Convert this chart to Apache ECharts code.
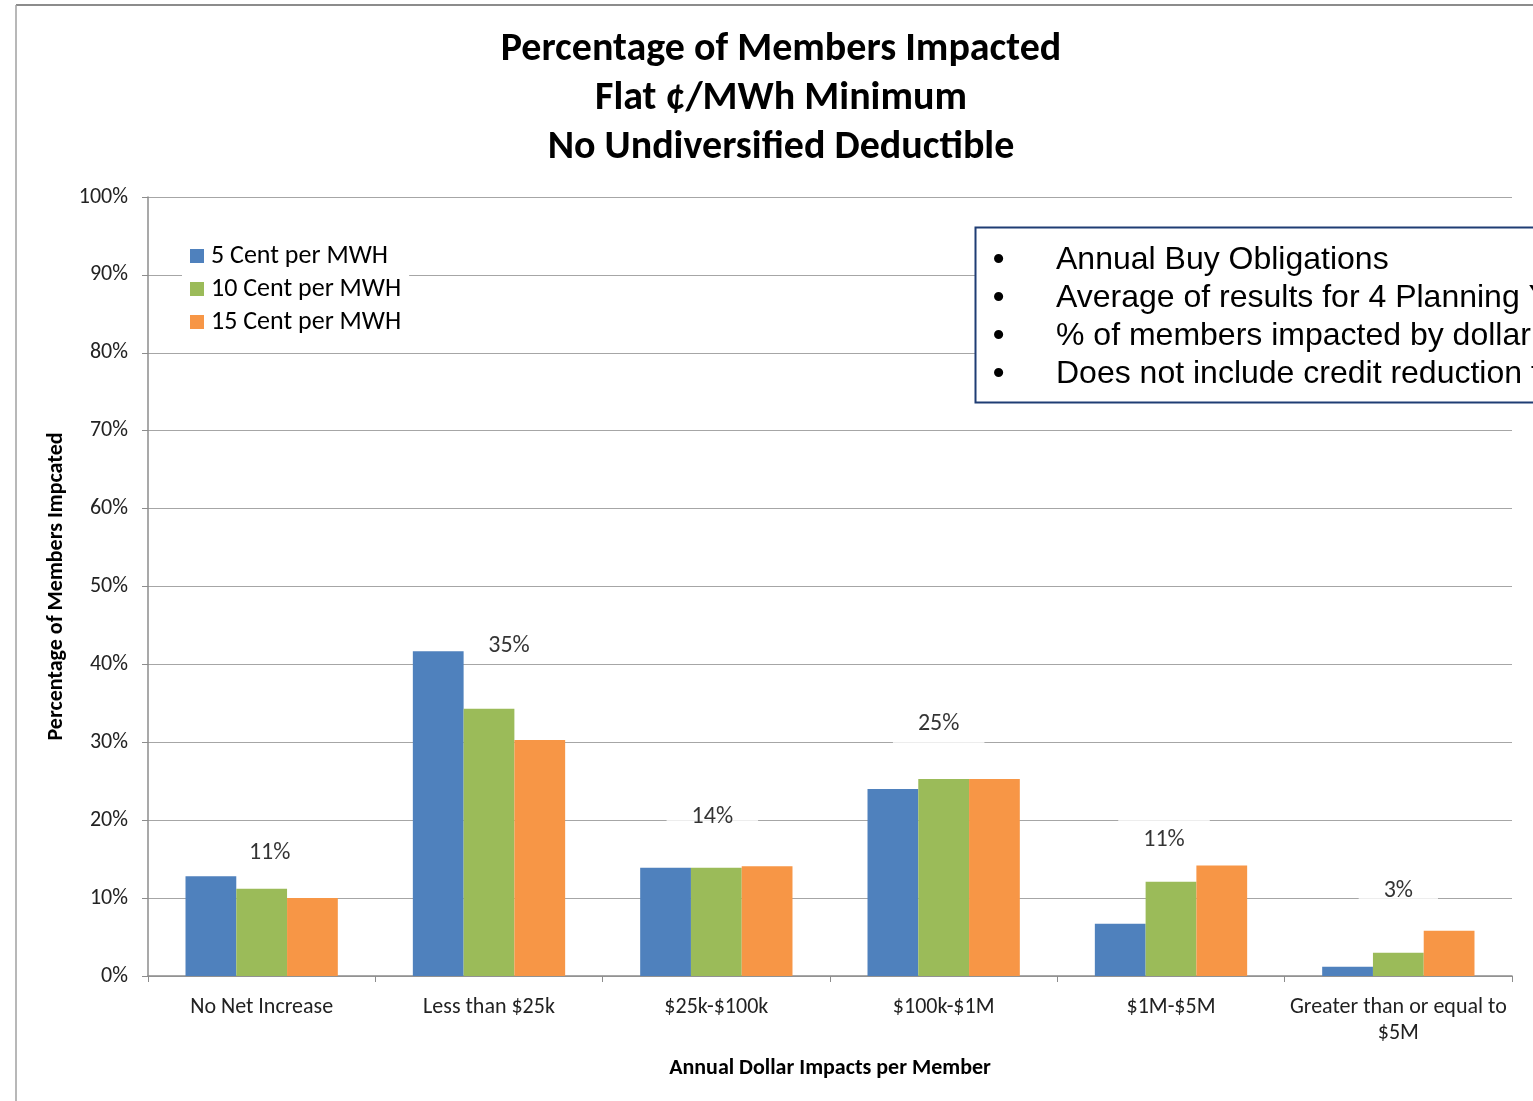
<!DOCTYPE html>
<html>
<head>
<meta charset="utf-8">
<script src="https://cdn.jsdelivr.net/npm/echarts@6/dist/echarts.min.js"></script>
<style>
html,body{margin:0;padding:0;background:#fff;}
#chart{width:1533px;height:1101px;}
</style>
</head>
<body>
<div id="chart"></div>
<script>
var categories = ['No Net Increase', 'Less than $25k', '$25k-$100k', '$100k-$1M', '$1M-$5M', 'Greater than or equal to\n$5M'];
var seriesNames = ['5 Cent per MWH', '10 Cent per MWH', '15 Cent per MWH'];
var cent5 = [12.8, 41.7, 13.9, 24.0, 6.7, 1.2];
var cent10 = [11.2, 34.3, 13.9, 25.3, 12.1, 3.0];
var cent15 = [10.0, 30.3, 14.1, 25.3, 14.2, 5.8];
var groupLabels = ['11%', '35%', '14%', '25%', '11%', '3%'];
var groupLabelY = [15.8, 42.4, 20.4, 32.3, 17.5, 10.9];
var yTicks = [0, 10, 20, 30, 40, 50, 60, 70, 80, 90, 100];
var titleLines = ['Percentage of Members Impacted', 'Flat \u00a2/MWh Minimum', 'No Undiversified Deductible'];
var noteLines = ['Annual Buy Obligations', 'Average of results for 4 Planning Years', '% of members impacted by dollar amount', 'Does not include credit reduction for members'];

// label nudges (pixels) to match the manually placed text boxes
var labelShiftX = [8, 20, -4, -5, -7, 0];

var FONT = 'Carlito, Lato, "Open Sans", sans-serif';
var colors = ['#4f81bd', '#9bbb59', '#f79646'];
var chart = echarts.init(document.getElementById('chart'), null, {renderer: 'canvas'});

var labelData = groupLabelY.map(function (v, i) {
  var item = {value: [i, v], name: groupLabels[i], label: {offset: [labelShiftX[i], 0]}};
  if (groupLabels[i] === '35%') { item.label.backgroundColor = 'transparent'; }
  return item;
});

var noteGraphics = [];
noteLines.forEach(function (t, i) {
  noteGraphics.push({type: 'text', left: 993, top: 244 + i * 38, style: {text: '\u2022', font: 'bold 32px "Liberation Sans", Arial, sans-serif', fill: '#000'}, z: 20});
  noteGraphics.push({type: 'text', left: 1056, top: 244 + i * 38, style: {text: t, font: '32px "Liberation Sans", Arial, sans-serif', fill: '#000'}, z: 20});
});

var option = {
  backgroundColor: '#fff',
  animation: false,
  color: colors,
  title: {
    text: titleLines.join('\n'),
    left: 776, textAlign: 'center', top: 20,
    textStyle: {fontFamily: FONT, fontSize: 40, fontWeight: 'bold', color: '#000', lineHeight: 49}
  },
  legend: {
    data: seriesNames,
    orient: 'vertical',
    left: 182, top: 241,
    itemWidth: 14, itemHeight: 14, itemGap: 7,
    icon: 'rect',
    backgroundColor: '#fff',
    padding: [2, 8, 2, 8],
    textStyle: {fontFamily: FONT, fontSize: 26, color: '#000', padding: [0, 0, 0, 2]}
  },
  grid: {left: 148, right: 21, top: 197, bottom: 125, containLabel: false},
  xAxis: {
    type: 'category',
    data: categories,
    name: 'Annual Dollar Impacts per Member',
    nameLocation: 'middle', nameGap: 81,
    nameTextStyle: {fontFamily: FONT, fontSize: 22, fontWeight: 'bold', color: '#000'},
    axisLine: {lineStyle: {color: '#8c8c8c', width: 1.5}},
    axisTick: {show: true, length: 6, lineStyle: {color: '#8c8c8c'}},
    axisLabel: {fontFamily: FONT, fontSize: 22, color: '#222', margin: 18, lineHeight: 26, interval: 0}
  },
  yAxis: {
    type: 'value', min: 0, max: 100, interval: 10,
    name: 'Percentage of Members Impcated',
    nameLocation: 'middle', nameGap: 78,
    nameTextStyle: {fontFamily: FONT, fontSize: 22, fontWeight: 'bold', color: '#000'},
    axisLine: {show: true, lineStyle: {color: '#8c8c8c', width: 1.5}},
    axisTick: {show: true, length: 6, lineStyle: {color: '#8c8c8c'}},
    splitLine: {lineStyle: {color: '#a6a6a6', width: 1.2}},
    axisLabel: {fontFamily: FONT, fontSize: 22, color: '#222', margin: 20, formatter: '{value}%'}
  },
  series: [
    {name: seriesNames[0], type: 'bar', data: cent5, barGap: '0%', barCategoryGap: '33%', z: 3},
    {name: seriesNames[1], type: 'bar', data: cent10, barGap: '0%', barCategoryGap: '33%', z: 3},
    {name: seriesNames[2], type: 'bar', data: cent15, barGap: '0%', barCategoryGap: '33%', z: 3},
    {
      name: 'group', type: 'scatter', data: labelData, symbolSize: 1,
      itemStyle: {color: 'transparent'}, z: 2, silent: true,
      label: {
        show: true, position: 'inside',
        formatter: function (p) { return p.name; },
        fontFamily: FONT, fontSize: 24, color: '#000',
        backgroundColor: '#fff', padding: [11, 25, 11, 25]
      }
    }
  ],
  graphic: [
    {type: 'line', shape: {x1: 16, y1: 5, x2: 1533, y2: 5}, style: {stroke: '#8c8c8c', lineWidth: 2}},
    {type: 'line', shape: {x1: 16, y1: 5, x2: 16, y2: 1101}, style: {stroke: '#a0a0a0', lineWidth: 1.5}},
    {type: 'rect', shape: {x: 975.5, y: 227.5, width: 600, height: 175}, style: {fill: '#fff', stroke: '#1f3d74', lineWidth: 2}, z: 15}
  ].concat(noteGraphics)
};
chart.setOption(option);
</script>
</body>
</html>
